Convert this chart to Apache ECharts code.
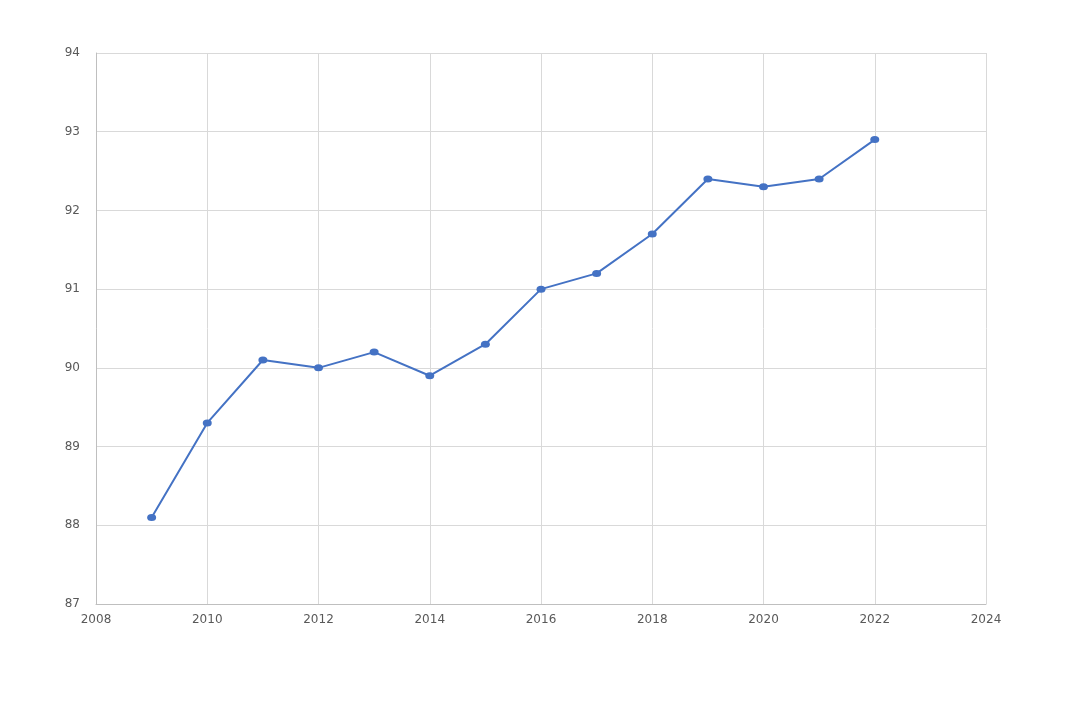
<!DOCTYPE html>
<html>
<head>
<meta charset="utf-8">
<script src="https://cdn.jsdelivr.net/npm/echarts@6/dist/echarts.min.js"></script>
<style>
  html, body { margin: 0; padding: 0; background: #fff; }
  #main { width: 1077px; height: 727px; }
</style>
</head>
<body>
<div id="main"></div>
<script>
// values
var years = [2009, 2010, 2011, 2012, 2013, 2014, 2015, 2016, 2017, 2018, 2019, 2020, 2021, 2022];
var values = [88.1, 89.3, 90.1, 90.0, 90.2, 89.9, 90.3, 91.0, 91.2, 91.7, 92.4, 92.3, 92.4, 92.9];

var points = [];
for (var i = 0; i < years.length; i++) {
    points.push([years[i], values[i]]);
}

var myChart = echarts.init(document.getElementById('main'));
var labelStyle = { color: '#595959', fontSize: 12, fontFamily: 'DejaVu Sans' };

var option = {
    animation: false,
    grid: { left: 96, right: 91, top: 53, bottom: 123 },
    xAxis: {
        type: 'value',
        min: 2008, max: 2024, interval: 2,
        axisLine: { show: true, lineStyle: { color: '#bfbfbf' } },
        axisTick: { show: false },
        axisLabel: Object.assign({ margin: 10, formatter: function (v) { return String(v); } }, labelStyle),
        splitLine: { show: true, lineStyle: { color: '#d9d9d9' } }
    },
    yAxis: {
        type: 'value',
        min: 87, max: 94, interval: 1,
        axisLine: { show: true, lineStyle: { color: '#bfbfbf' } },
        axisTick: { show: false },
        axisLabel: Object.assign({ margin: 16 }, labelStyle),
        splitLine: { show: true, lineStyle: { color: '#d9d9d9' } }
    },
    series: [{
        type: 'line',
        data: points,
        symbol: 'circle',
        symbolSize: [9, 7],
        itemStyle: { color: '#4472c4' },
        lineStyle: { color: '#4472c4', width: 2 }
    }]
};
myChart.setOption(option);
</script>
</body>
</html>
